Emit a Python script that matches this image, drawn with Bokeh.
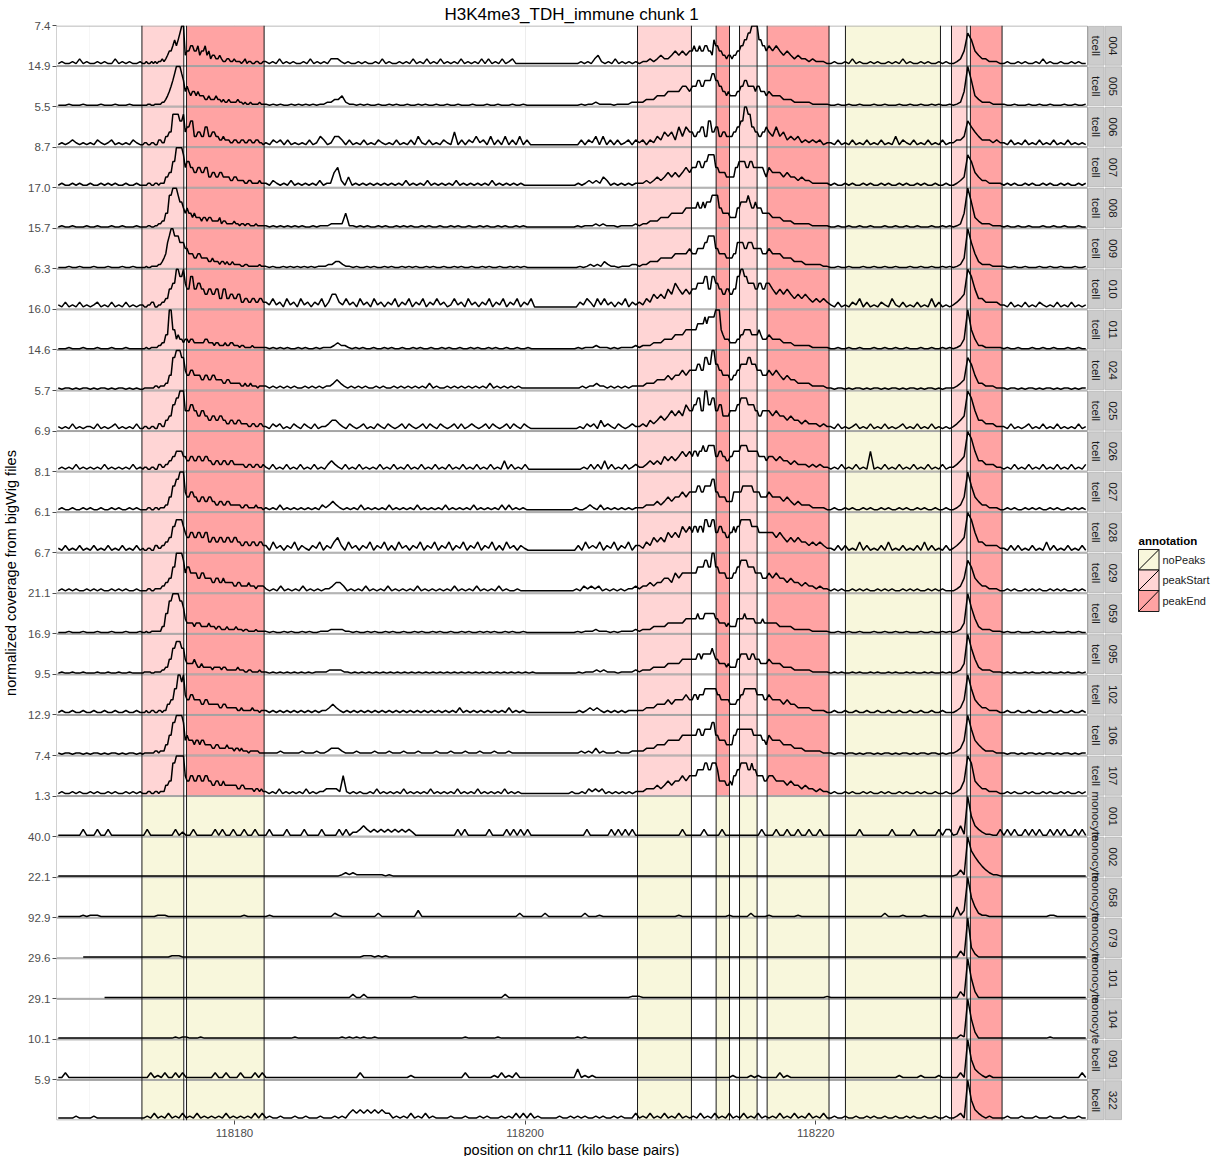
import numpy as np
from bokeh.plotting import figure
from bokeh.models import Range1d, FixedTicker, NumeralTickFormatter, Title
from bokeh.embed import file_html
from bokeh.resources import INLINE
from bokeh.core.properties import value

TITLE = "H3K4me3_TDH_immune chunk 1"
X_LABEL = "position on chr11 (kilo base pairs)"
Y_LABEL = "normalized coverage from bigWig files"

SAMPLES = ["004", "005", "006", "007", "008", "009", "010", "011", "024", "025",
           "026", "027", "028", "029", "059", "095", "102", "106", "107",
           "001", "002", "058", "079", "101", "104", "091", "322"]
CELL_TYPES = ["tcell", "tcell", "tcell", "tcell", "tcell", "tcell", "tcell", "tcell", "tcell", "tcell",
              "tcell", "tcell", "tcell", "tcell", "tcell", "tcell", "tcell", "tcell", "tcell",
              "monocyte", "monocyte", "monocyte", "monocyte", "monocyte", "monocyte", "bcell", "bcell"]
Y_MAX = [7.4, 14.9, 5.5, 8.7, 17.0, 15.7, 6.3, 16.0, 14.6, 5.7,
         6.9, 8.1, 6.1, 6.7, 21.1, 16.9, 9.5, 12.9, 7.4,
         1.3, 40.0, 22.1, 92.9, 29.6, 29.1, 10.1, 5.9]
TRACK_START = {"079": 118169.5, "101": 118171.0}

X_LIMITS = [118167.75, 118238.71]
X_TICKS = [118180, 118200, 118220]
X_MINOR = [118170, 118190, 118210, 118230]

# coverage profiles: one string per genomic segment, each char = level index
SEG_EDGES = [118167.75, 118173.63, 118176.55, 118182.04, 118207.74, 118211.45,
             118216.66, 118220.92, 118229.35, 118232.83, 118238.71]
LEVELS = [0.02, 0.05, 0.10, 0.17, 0.26, 0.37, 0.50, 0.65, 0.82, 1.0]

T004 = ["121121312112121131212112", "112112121223234556767899", "45566556455645344334322332232221231221122112",
        "2121312121121312121333212112121121312112121312131213121213121213131213123111111111111111111121213421213121212",
        "122323433454545", "565565566554766554434434455667788999977665", "65654543433232221",
        "1211213121121211212131211212112121", "12358754332221", "121121211213121121121211"]
T005 = ["000100010000100010001000", "000110011112234567899987", "56545545444334333433232232222322121121111211",
        "1010100101010101122334211010100100101001001010010010010001000100100010010000000000000001011211110111122",
        "223334445555665", "666776677778877665545444455667766665665554", "54443332222211111",
        "0010010010001001000100100100101001", "01259743222111", "100100010010010001001001"]
T006 = ["121232121213212312121321", "122112211332244558888778", "56677445544664455443343332233223322332233221",
        "2132313121213124312443131213121321213121314213121321513132423141314131413111111111111113132414131312313",
        "231324354536465", "544556644775566445544445566779988665544556", "54645343423232312",
        "2131213121312131214132131213121312", "23347654333232", "213121312131213121312121"]
T007 = ["121121211211212121121121", "111221122122244557799998", "67766556655664455445544443344333322332222322",
        "21321213121212131225631412121212121212131212131212121312121212131212121211111111111111121232324312121212",
        "223234345454565", "666776677888866555544444667777667766666654", "65554544343322222",
        "1211212112121121211212112121121121", "12348754332222", "121211212112121121211212"]
T008 = ["010010001001000100100010", "000110011223355889998776", "56554544434434433334233222232212212211121111",
        "1010101010100101112222511010100101001010100101001001010010010100101001010000000000000010111212111011112",
        "122333444555566", "666766767778888665555444466777787667666555", "54443332222211111",
        "0010010010010001001001001000100101", "01259743222111", "010010010001001001000100"]
T009 = ["000100100010001000100100", "001001111223457899888777", "66555445544443343332332322322221122111111211",
        "10100101010101011122332110100101001010010101001010010010100100101001001010100000000000000010121213211011122",
        "122333444455556", "555666677888866555544445577776677766666555", "65554443332222211",
        "0010010001001001001000100100100101", "01249753222111", "100100100010010010001001"]
T010 = ["213121312123121312131212", "211223311223344667799889", "76688667766556655664466445544553344334433443",
        "32423142314231324135532423142314231324132413241324231242314231324132413241324111111111111132431424231324132",
        "324354546576565", "666777788668877665566556688998877776677667", "76565654545434343",
        "2131213241312132142131213121413121", "23459864433332", "213121312132121312131212"]
T011 = ["000100010001000100010000", "001001111223355996645443", "44344333333443332332223223322212211112111111",
        "10101010010100101112322101010010010100100101001001010010010100101001001001000000000000010111211101011112",
        "122233344455566", "666777787888899965444333344556666555565444", "54443332222211111",
        "0010010010001001001001000100100101", "01249642211111", "010010001001001000100100"]
T024 = ["101101011010110101101010", "011111122122233558899988", "65566555544554455444433443333332232232221222",
        "212121212112121212234321212121121211212121212131211212121212121312121212111111111111111112122322121212122",
        "223334445455656", "666776688779977665555445566777788777666555", "65654544333322221",
        "1011010110101101011010110101101011", "12348753322211", "101101011010110101101011"]
T025 = ["212131212213121231212131", "122112211332244557788999", "66677665566554455445544334433443333223322332",
        "21323121321321312234432132123121321321231321231321321231312321231321231321321111111111111121323142321321232",
        "232434545656576", "677886699778866775555666677888877776655666", "65655454434333232",
        "2131212312131213121231213121312121", "23459864433322", "213121231213121312121312"]
T026 = ["121213121212131212121312", "122112211332233445566665", "54455445544554433443344334433333322332233223",
        "213121312131213121343213121312121312131213121312131213121312131213121413121311111111111111112131314131213123",
        "223434354545656", "566566766777755665544556666777766666655554", "55454434333232322",
        "1213121312161213121312131213121312", "23459864433322", "121312131213121312131213"]
T027 = ["121121121211211212112121", "111221122122233557788999", "65566554455445544334433443333332233222232221",
        "2121312121212121323432121213121212131212121312121213121212131212121313121211111111111111211232131212121212",
        "223334345455656", "666776677778866555544446666677777766665555", "65554543433322221",
        "1211212112121121211212112121121121", "12359754332221", "121211212121121211212121"]
T028 = ["213121312131213121312131", "211221133223344557788887", "65566556655664455445544554455443344334433443",
        "31423132413213241324531423132413241314231324132413241324132413241314231321111111111111131423241324132413",
        "324354546565767", "677677688778866776655667677888888777766666", "66565454544343432",
        "2131312141312131412131213141312131", "23459864433332", "213131213121413121312131"]
T029 = ["121212112121211212121121", "111221122223344557799998", "67766665566555544554454444433443333433323333",
        "21213121213121212234431212131212131212121312121212131212131212131211211111111111111121323231212121223",
        "233434455465666", "666777788779977666655556677888877776666555", "65655454434332322",
        "1212112121211212121121212112121211", "12358754332221", "121211212121121212112121"]
T059 = ["000100010001000100010001", "001001111113366889999887", "54444344433334333233222322223222122111121111",
        "1010010100101001112222110100101001010010010100101001001010010101001010010000000000000010111211101011112",
        "122233334444455", "555655566666655444434333355556555554444544", "44433332222211111",
        "0010010010001001001001000100100101", "01249753222111", "010010001001001000100100"]
T095 = ["010010010001001001001000", "011110011112233557788877", "54444543343333323333233222222322211221111211",
        "101010101010101111222211010101010101010101010101010101010101010101010101010100000000000010111212111011112",
        "122233334444555", "555665666667655444434333355666655665554444", "54443332222211111",
        "0101001010010100101001010010100101", "01249753222111", "010100101001010010100101"]
T102 = ["121121121121121121121121", "112112211221224455779989", "65566555544554444443344333333223222223222122",
        "2121212121212121223432121212121212121212121212121212121312121212121213121211111111111111121232321212121222",
        "223334445455565", "566566677777776655555444455667777777666655", "65554544333322221",
        "1211211211211211211211211211211211", "12359754332221", "121121121121121121121121"]
T106 = ["101101101011010110101101", "011111122122244668899998", "56555455455444433443333433323323222122222111",
        "1111211111211121123332111211112111211121112111121112111211121112111211111111111111111112121312111211122",
        "223334445555666", "666776677778866555544446677777777766666554", "65554443332222211",
        "1011011010110101101011010110110101", "12359754322211", "101101011010110101101011"]
T107 = ["121121211212112121121212", "111221122122244558899999", "65566556655665544554454444444334433333233232",
        "212131212121312122333326212121121312121213121212131212121312121312121213121211111111111111121121323231212121212",
        "223334345455656", "666777788778887555544546677888877877666655", "66555454434332322",
        "1211212112121121211212112121121121", "12359854332221", "121211212112121121211212"]
M001 = ["000000030003003000000000", "030000000302", "0030000030300300300300",
        "03000030000300003000030302234323232323232320000000000003030000003000030303030000000000000000300000030303030",
        "000000000000300", "000300003000000000030", "00300300300300300",
        "0000000030000000030000030000003033", "01419643211003", "030300303030030303003030"]
M002 = ["000000000000000000000000", "000000000000", "0000000000000000000000",
        "0000000000000000000001212111111110100000000000000000000000000000000000000000000000000000000000000000000",
        "000000000000000", "000000000000000000000", "00000000000000000",
        "0000000000000000000000000000000000", "01319765432110", "000000000000000000000000"]
M058 = ["000000010111000000000000", "000011100000", "0000000000000000100000",
        "0100000000000000000210000000000200000000003000000000000000000000000000200000020000000000200010000000000",
        "000000000001000", "000000000010000020000", "10000000100000000",
        "0000000000000002000010000010000000", "04139642110000", "000000000000011000000000"]
M079 = ["000000000000000000000000", "000000001110", "0000000000000000000000",
        "0000000000000000000000000001110101000000000000000000000000000000000000000000000000000000000000000000000",
        "000000000000000", "000000000000000000000", "00000000000000000",
        "0000000000000000000000000000000000", "00319420000000", "000000000000000000000000"]
M101 = ["000000000000000000000000", "000000000000", "0000000000000000000000",
        "0000000000000000000000002002000000000000010000000000000000000000002000000000000000000000000000000000011",
        "100000000000000", "000000000000000000000", "00000000000000001",
        "0000000000000000000000000000000000", "00319630000000", "000000000000000000000000"]
M104 = ["000000000000000000000000", "000000000101", "1000100000000000000000",
        "0000000010000000000001010101001000000000000000000000000100000000100000000000000000000010100000000000000",
        "000000000000000", "000000000000000000000", "00000000000000000",
        "0000000000000000000000000000000000", "00219630000000", "000000000000010000000000"]
B091 = ["113111111111111111111111", "113121311313", "1111111131131113111313",
        "1111111111111111111111111131111111111111211111111111111311111112131213111111111111111141212111111111111",
        "111111111111111", "111111111112111121211", "11131211111111111",
        "1111111111111111111211111211112111", "11319643212111", "111111111111111111111131"]
B322 = ["111112111121111111111111", "121312131213", "1213121212131212121313",
        "1211211121121112111212134343434343312121312131211112111211121211121213131312111112112121211212112121113",
        "121312131213121", "213121312131213121312", "12131213121312131",
        "1211211211212112112112121121121121", "12319643212111", "121112111211121112111211"]

TRACKS = [T004, T005, T006, T007, T008, T009, T010, T011, T024, T025,
          T026, T027, T028, T029, T059, T095, T102, T106, T107,
          M001, M002, M058, M079, M101, M104, B091, B322]

# annotation regions
REG_START = [118173.63, 118176.70, 118207.74, 118213.15, 118214.76, 118216.66, 118222.05, 118229.35, 118230.65]
REG_END = [118176.51, 118182.04, 118211.45, 118214.07, 118215.97, 118220.92, 118228.59, 118230.41, 118232.83]
REG_TCELL = ["peakStart", "peakEnd", "peakStart", "peakEnd", "peakStart", "peakEnd", "noPeaks", "peakStart", "peakEnd"]
REG_OTHER = ["noPeaks", "noPeaks", "noPeaks", "noPeaks", "noPeaks", "noPeaks", "noPeaks", "peakStart", "peakEnd"]
ANN_NAMES = ["noPeaks", "peakStart", "peakEnd"]
ANN_COLORS = ["#F8F7DC", "#FFD5D5", "#FFA3A3"]
LEGEND_TITLE = "annotation"

FONT = "Liberation Sans"

# ---- geometry (page pixels) ----
W = 1217
FL, FR_DATA, FT, FB = 56, 1087, 25, 1120
FR = W
NP = len(SAMPLES)
X0, X1 = X_LIMITS
KPP = (X1 - X0) / (FR_DATA - FL)


def xpx(px):
    return X0 + (px - FL) * KPP


def ypx(py):
    return NP * (FB - py) / (FB - FT)


p = figure(width=W, height=1157, x_range=Range1d(X0, xpx(FR)), y_range=Range1d(0, NP),
           output_backend="svg", toolbar_location=None,
           min_border_left=FL - 8, min_border_right=0, min_border_top=0, min_border_bottom=0)
p.outline_line_color = None
p.background_fill_color = "white"

p.title.text = TITLE
p.title.align = "left"
p.title.offset = 388
p.title.standoff = 4
p.title.text_font = FONT
p.title.text_font_size = "17px"
p.title.text_font_style = "normal"
p.title.text_color = "#000000"

# grid
p.ygrid.grid_line_color = None
p.xaxis.ticker = FixedTicker(ticks=X_TICKS, minor_ticks=X_MINOR)
p.xgrid.grid_line_color = "#EDEDED"
p.xgrid.minor_grid_line_color = "#F6F6F6"

# x axis
p.xaxis.formatter = NumeralTickFormatter(format="0")
p.xaxis.axis_line_color = None
p.xaxis.major_tick_line_color = "#4D4D4D"
p.xaxis.minor_tick_line_color = None
p.xaxis.major_tick_out = 4
p.xaxis.major_tick_in = 0
p.xaxis.major_label_standoff = 4
p.xaxis.major_label_text_font = FONT
p.xaxis.major_label_text_font_size = "11.5px"
p.xaxis.major_label_text_color = "#4D4D4D"
xt = Title(text=X_LABEL, align="left", offset=407, standoff=0,
           text_font=FONT, text_font_size="14.5px", text_font_style="normal", text_color="#000000")
p.add_layout(xt, "below")

# y axis: one tick at each panel top, labelled with the panel max
ytick_vals = [NP - k for k in range(NP)]
p.yaxis.ticker = FixedTicker(ticks=ytick_vals)
p.yaxis.major_label_overrides = {NP - k: "%.1f" % Y_MAX[k] for k in range(NP)}
p.yaxis.axis_line_color = None
p.yaxis.major_tick_line_color = "#4D4D4D"
p.yaxis.minor_tick_line_color = None
p.yaxis.major_tick_out = 4
p.yaxis.major_tick_in = 0
p.yaxis.major_label_standoff = 2
p.yaxis.major_label_text_font = FONT
p.yaxis.major_label_text_font_size = "11.5px"
p.yaxis.major_label_text_color = "#4D4D4D"
p.yaxis.axis_label = Y_LABEL
p.yaxis.axis_label_text_font = FONT
p.yaxis.axis_label_text_font_size = "14.5px"
p.yaxis.axis_label_text_font_style = "normal"
p.yaxis.axis_label_text_color = "#000000"
p.yaxis.axis_label_standoff = 6

G = 0.012

# annotation fills
for k in range(NP):
    kinds = REG_TCELL if CELL_TYPES[k] == "tcell" else REG_OTHER
    cols = [ANN_COLORS[ANN_NAMES.index(t)] for t in kinds]
    p.quad(left=REG_START, right=REG_END, bottom=[NP - 1 - k] * len(REG_START), top=[NP - k] * len(REG_START),
           fill_color=cols, line_color=None)

# panel borders
pb = [NP - 1 - k + G for k in range(NP)]
pt = [NP - k - G for k in range(NP)]
p.quad(left=[X0] * NP, right=[X1] * NP, bottom=pb, top=pt, fill_color=None,
       line_color="#A3A3A3", line_width=1)

# region borders
bx = REG_START + REG_END
p.segment(x0=bx, x1=bx, y0=[0] * len(bx), y1=[NP] * len(bx), line_color="#1A1A1A", line_width=1)

# coverage lines
for k in range(NP):
    xs, ys = [], []
    for si, s in enumerate(TRACKS[k]):
        a, b = SEG_EDGES[si], SEG_EDGES[si + 1]
        n = len(s)
        for j, c in enumerate(s):
            xs.append(a + (j + 0.5) * (b - a) / n)
            ys.append(LEVELS[int(c)] * Y_MAX[k])
    xs = np.array(xs)
    ys = np.array(ys)
    st = TRACK_START.get(SAMPLES[k])
    if st is not None:
        m = xs >= st
        xs, ys = xs[m], ys[m]
    base = NP - 1 - k + G
    yy = base + ys / Y_MAX[k] * (1 - 2 * G)
    p.line(xs, yy, line_color="black", line_width=1.5)

# strips
s1l, s1r, s2l, s2r = xpx(1088), xpx(1103.5), xpx(1104.5), xpx(1121)
sb = [NP - 1 - k + 0.02 for k in range(NP)]
stt = [NP - k - 0.02 for k in range(NP)]
p.quad(left=[s1l] * NP, right=[s1r] * NP, bottom=sb, top=stt, fill_color="#CCCCCC", line_color="#B5B5B5", line_width=0.8)
p.quad(left=[s2l] * NP, right=[s2r] * NP, bottom=sb, top=stt, fill_color="#CCCCCC", line_color="#B5B5B5", line_width=0.8)
ymid = [NP - k - 0.5 for k in range(NP)]
p.text(x=[(s1l + s1r) / 2] * NP, y=ymid, text=CELL_TYPES, angle=-np.pi / 2,
       text_align="center", text_baseline="middle", text_font=value(FONT), text_font_size="11.5px",
       text_color="#1A1A1A")
p.text(x=[(s2l + s2r) / 2] * NP, y=ymid, text=SAMPLES, angle=-np.pi / 2,
       text_align="center", text_baseline="middle", text_font=value(FONT), text_font_size="11.5px",
       text_color="#1A1A1A")

# legend
p.text(x=[xpx(1138)], y=[ypx(540)], text=[LEGEND_TITLE], text_align="left", text_baseline="middle",
       text_font=value(FONT), text_font_size="11.5px", text_font_style="bold", text_color="#000000")
box_top = [549, 569.5, 590]
box_bot = [569.5, 590, 611]
lx0, lx1 = xpx(1138), xpx(1158.5)
p.quad(left=[lx0] * 3, right=[lx1] * 3, bottom=[ypx(v) for v in box_bot], top=[ypx(v) for v in box_top],
       fill_color=ANN_COLORS, line_color="#1A1A1A", line_width=1)
p.segment(x0=[lx0] * 3, x1=[lx1] * 3, y0=[ypx(v) for v in box_bot], y1=[ypx(v) for v in box_top],
          line_color="#000000", line_width=1)
p.text(x=[xpx(1162)] * 3, y=[ypx((a + b) / 2) for a, b in zip(box_top, box_bot)], text=ANN_NAMES,
       text_align="left", text_baseline="middle", text_font=value(FONT), text_font_size="11px",
       text_color="#1A1A1A")

open("out.html", "w").write(file_html(p, INLINE))
